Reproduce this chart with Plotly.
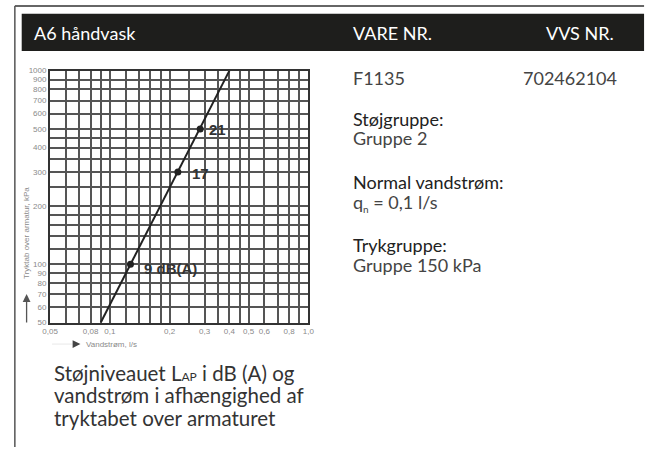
import math
import plotly.graph_objects as go

W, H = 653, 452

# Nomogram grid values (flow in l/s, pressure loss in kPa)
flow_grid = [0.05, 0.06, 0.07, 0.08, 0.09, 0.1, 0.12, 0.14, 0.16, 0.18, 0.2,
             0.25, 0.3, 0.35, 0.4, 0.45, 0.5, 0.6, 0.7, 0.8, 0.9, 1.0]
flow_labels = {0.05: "0,05", 0.08: "0,08", 0.1: "0,1", 0.2: "0,2", 0.3: "0,3",
               0.4: "0,4", 0.5: "0,5", 0.6: "0,6", 0.8: "0,8", 1.0: "1,0"}
press_grid = [50, 60, 70, 80, 90, 100, 120, 140, 160, 180, 200, 250, 300,
              350, 400, 450, 500, 600, 700, 800, 900, 1000]
press_labels = {50: "50", 60: "60", 70: "70", 80: "80", 90: "90", 100: "100",
                200: "200", 300: "300", 400: "400", 500: "500", 600: "600",
                700: "700", 800: "800", 900: "900", 1000: "1000"}

# Characteristic line of the tap
line_flow = [0.09, 0.40]
line_press = [50, 1000]

# Noise level points on the line
pt_flow = [0.127, 0.22, 0.285]
pt_press = [100, 300, 500]
pt_text = ["9 dB(A)", "17", "21"]
# label offsets from their points, in pixels
pt_dx = [12, 12, 7]
pt_dy = [-4, -2, -1]

# Plot area in pixels
x0, x1 = 43, 307
y0, y1 = 68, 325


def px(x):
    return x / W


def py(y):
    return 1 - y / H


def text_at(x, y, t, font, xanchor="left", **kw):
    fig.add_annotation(x=px(x), y=py(y), xref="paper", yref="paper", text=t,
                       showarrow=False, xanchor=xanchor, yanchor="middle",
                       font=font, **kw)


fig = go.Figure()
fig.add_trace(go.Scatter(x=line_flow, y=line_press, mode="lines",
                         line=dict(color="#222222", width=2), hoverinfo="skip"))
fig.add_trace(go.Scatter(x=pt_flow, y=pt_press, mode="markers",
                         marker=dict(color="#222222", size=7), hoverinfo="skip"))

# annotations on log axes take log10 positions
for q, p, t, dx, dy in zip(pt_flow, pt_press, pt_text, pt_dx, pt_dy):
    fig.add_annotation(x=math.log10(q), y=math.log10(p), xref="x", yref="y",
                       text=f"<b>{t}</b>", showarrow=False,
                       xanchor="left", yanchor="middle", xshift=dx, yshift=dy,
                       font=dict(family="Liberation Sans", size=15, color="#333333"))

grid_col = "#555555"
tick_font = dict(family="Liberation Sans", size=8, color="#8a8a8a")
fig.update_xaxes(type="log", range=[-1.30103, 0],
                 domain=[px(x0), px(x1)],
                 tickvals=flow_grid,
                 ticktext=[flow_labels.get(v, "") for v in flow_grid],
                 showgrid=True, gridcolor=grid_col, gridwidth=1.8,
                 showline=True, linecolor="#333333", linewidth=2, mirror=True,
                 ticks="", zeroline=False, tickfont=tick_font)
fig.update_yaxes(type="log", range=[1.69897, 3],
                 domain=[py(y1), py(y0)],
                 tickvals=press_grid,
                 ticktext=[press_labels.get(v, "") for v in press_grid],
                 showgrid=True, gridcolor=grid_col, gridwidth=1.8,
                 showline=True, linecolor="#333333", linewidth=2, mirror=True,
                 ticks="", zeroline=False, tickfont=tick_font)

# Axis captions with arrows
text_at(19, 234, "Tryktab over armatur, kPa", tick_font, xanchor="center", textangle=-90)
fig.add_annotation(x=px(19), y=py(296), xref="paper", yref="paper",
                   xanchor="center", yanchor="middle",
                   ax=0, ay=30, text="", showarrow=True, arrowhead=2, arrowsize=1.2,
                   arrowwidth=1.3, arrowcolor="#555555")
fig.add_shape(type="line", xref="paper", yref="paper",
              x0=px(45), x1=px(66), y0=py(347), y1=py(347),
              line=dict(color="#e8e8e8", width=1))
fig.add_annotation(x=px(74), y=py(347), xref="paper", yref="paper",
                   xanchor="center", yanchor="middle",
                   ax=-8, ay=0, text="", showarrow=True, arrowhead=2, arrowsize=1.3,
                   arrowwidth=1.2, arrowcolor="#444444")
text_at(78, 347, "Vandstrøm, l/s", tick_font)

# Page frame and header band
fig.add_shape(type="line", xref="paper", yref="paper", x0=px(7), x1=px(650),
              y0=py(2), y1=py(2), line=dict(color="#333333", width=1.5))
fig.add_shape(type="line", xref="paper", yref="paper", x0=px(7), x1=px(7),
              y0=py(2), y1=0, line=dict(color="#555555", width=1.5))
fig.add_shape(type="rect", xref="paper", yref="paper", x0=px(14), x1=px(650),
              y0=py(48), y1=py(10), line=dict(width=0), fillcolor="#1e1e1c")

font_main = "Lato"
hdr = dict(family=font_main, size=18, color="#ffffff")
text_at(25, 30, "A6 håndvask", hdr)
text_at(351, 30, "VARE NR.", hdr)
text_at(621, 30, "VVS NR.", hdr, xanchor="right")

val = dict(family=font_main, size=18, color="#444444")
head = dict(family=font_main, size=18, color="#222222")
info = [
    (351, 76, "F1135", val, "left"),
    (624, 76, "702462104", val, "right"),
    (351, 117, "Støjgruppe:", head, "left"),
    (351, 137, "Gruppe 2", val, "left"),
    (351, 182, "Normal vandstrøm:", head, "left"),
    (351, 203, "q<sub><span style='font-size:10px'>n</span></sub> = 0,1 l/s", val, "left"),
    (351, 246, "Trykgruppe:", head, "left"),
    (351, 266, "Gruppe 150 kPa", val, "left"),
]
for x, y, t, f, anc in info:
    text_at(x, y, t, f, xanchor=anc)

cap = dict(family=font_main, size=20.5, color="#333333")
caption = ["Støjniveauet L<span style='font-size:12px'>AP</span> i dB (A) og",
           "vandstrøm i afhængighed af",
           "tryktabet over armaturet"]
for i, t in enumerate(caption):
    text_at(45, 376 + 23 * i, t, cap)

fig.update_layout(width=W, height=H, margin=dict(l=0, r=0, t=0, b=0),
                  paper_bgcolor="#ffffff", plot_bgcolor="#ffffff", showlegend=False)

fig.write_html("out.html")
